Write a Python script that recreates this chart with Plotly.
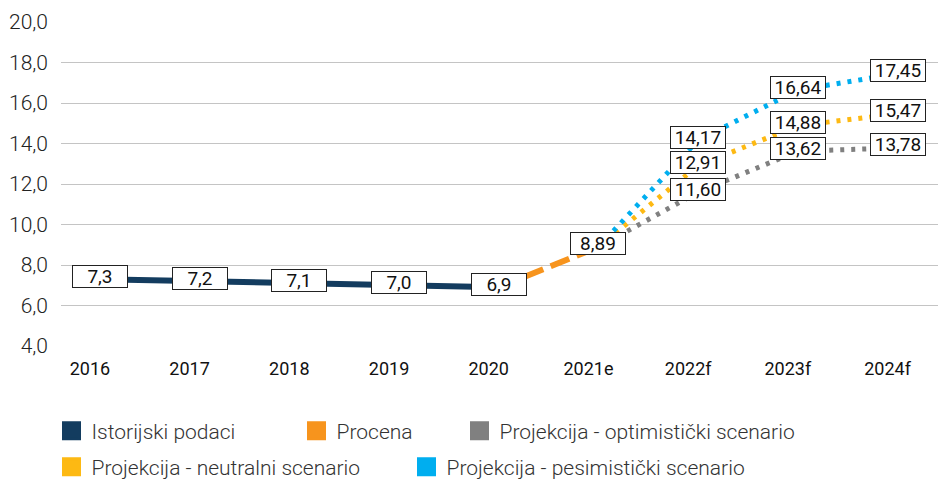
import plotly.graph_objects as go

years = ["2016", "2017", "2018", "2019", "2020", "2021e", "2022f", "2023f", "2024f"]

hist_x = ["2016", "2017", "2018", "2019", "2020"]
hist_y = [7.3, 7.2, 7.1, 7.0, 6.9]

est_x = ["2020", "2021e"]
est_y = [6.9, 8.89]

proj_x = ["2021e", "2022f", "2023f", "2024f"]
optimistic = [8.89, 11.60, 13.62, 13.78]
neutral = [8.89, 12.91, 14.88, 15.47]
pessimistic = [8.89, 14.17, 16.64, 17.45]

names = ["Istorijski podaci", "Procena", "Projekcija - optimistički scenario",
         "Projekcija - neutralni scenario", "Projekcija - pesimistički scenario"]
colors = ["#133C5F", "#F7941D", "#808080", "#FDB913", "#00AEEF"]

fig = go.Figure()

fig.add_trace(go.Scatter(x=hist_x, y=hist_y, mode="lines", showlegend=False,
                         line=dict(color=colors[0], width=6)))
fig.add_trace(go.Scatter(x=est_x, y=est_y, mode="lines", showlegend=False,
                         line=dict(color=colors[1], width=6, dash="20px,8px")))
for ys, c in [(optimistic, colors[2]), (neutral, colors[3]), (pessimistic, colors[4])]:
    fig.add_trace(go.Scatter(x=proj_x, y=ys, mode="lines", showlegend=False,
                             line=dict(color=c, width=5, dash="4px,7px")))

# legend entries with square swatches, one legend box each so they sit like the original
# (page body has an 8px margin, so figure coords are screen coords minus 8)
leg_pos = [(43.5, 423), (288.5, 423), (451.5, 423), (43.5, 459), (398.5, 459)]
for i, (n, c) in enumerate(zip(names, colors)):
    lid = "legend" if i == 0 else f"legend{i + 1}"
    fig.add_trace(go.Scatter(x=[None], y=[None], mode="markers", name=n, legend=lid,
                             marker=dict(symbol="square", size=20, color=c,
                                         line=dict(color=c, width=3))))
    lx, ly = leg_pos[i]
    fig.update_layout({lid: dict(orientation="h", xref="container", yref="container",
                                 x=lx / 946, y=1 - ly / 480, xanchor="left", yanchor="middle",
                                 bgcolor="rgba(0,0,0,0)",
                                 font=dict(size=21, color="#333", weight=300))})

# boxed value labels
def add_labels(xs, ys, dec):
    for x, y in zip(xs, ys):
        fig.add_annotation(x=years.index(x), y=y, text=f"{y:.{dec}f}".replace(".", ","),
                           showarrow=False, yshift=3, width=54, height=21,
                           bgcolor="white", bordercolor="#222", borderwidth=1,
                           borderpad=0, font=dict(family="Roboto", size=19, color="#111"))

add_labels(hist_x, hist_y, 1)
add_labels(est_x[1:], est_y[1:], 2)
add_labels(proj_x[1:], optimistic[1:], 2)
add_labels(proj_x[1:], neutral[1:], 2)
add_labels(proj_x[1:], pessimistic[1:], 2)

fig.update_layout(
    width=946, height=480,
    margin=dict(l=53, r=0, t=14, b=142, autoexpand=False),
    plot_bgcolor="white", paper_bgcolor="white",
    separators=", ",
    font=dict(family="Roboto", color="#222"),
)
fig.update_xaxes(type="category", categoryorder="array", categoryarray=years,
                 range=[-0.39, 8.566], showgrid=False, showline=False, zeroline=False,
                 ticks="", ticklabelshift=-10, ticklabelstandoff=10,
                 tickfont=dict(size=18, color="#111"))
fig.update_yaxes(range=[4, 20], dtick=2, tick0=4, tickformat=".1f",
                 showgrid=True, gridcolor="#C4C4C4", gridwidth=1.3, zeroline=False,
                 showline=False, ticks="", ticklabelstandoff=12,
                 tickfont=dict(size=21, color="#222", weight=300))

fig.write_html("out.html")
